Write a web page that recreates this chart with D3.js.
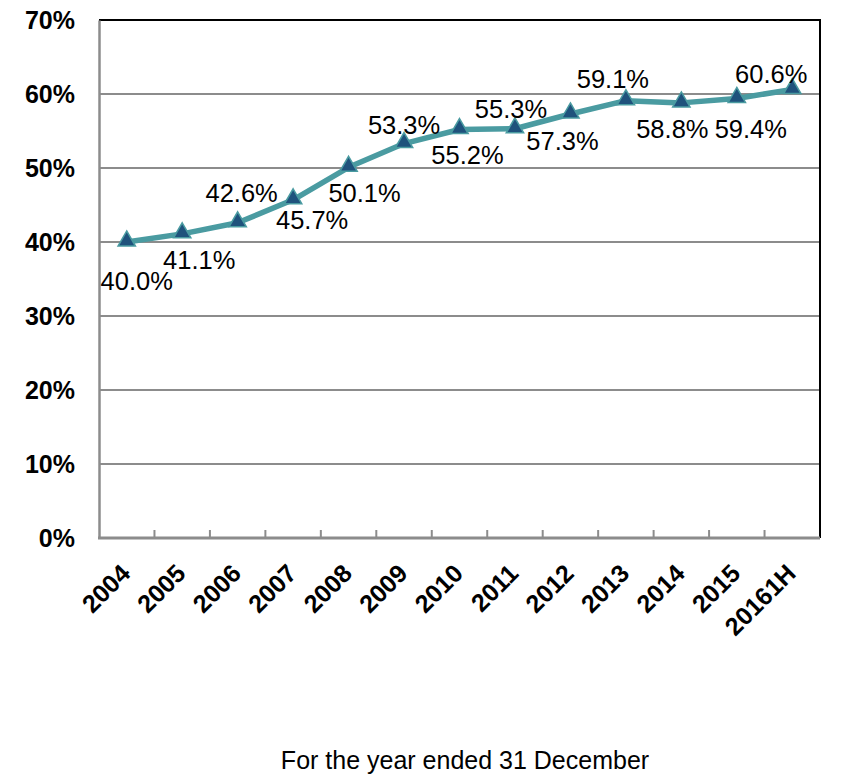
<!DOCTYPE html>
<html>
<head>
<meta charset="utf-8">
<script src="https://cdn.jsdelivr.net/npm/d3@7"></script>
<style>
  body { margin: 0; background: #fff; }
  svg { font-family: Arial, "Liberation Sans", sans-serif; }
</style>
</head>
<body>
<svg id="chart"></svg>
<script>
// data
const categories = ["2004", "2005", "2006", "2007", "2008", "2009", "2010", "2011", "2012", "2013", "2014", "2015", "20161H"];
const ratios = [40.0, 41.1, 42.6, 45.7, 50.1, 53.3, 55.2, 55.3, 57.3, 59.1, 58.8, 59.4, 60.6];
const yTicks = [0, 10, 20, 30, 40, 50, 60, 70];
const xTitle = "For the year ended 31 December";

const width = 848;
const height = 784;
const margin = {top: 20, right: 28, bottom: 246, left: 99};

const svg = d3.select("#chart")
    .attr("width", width)
    .attr("height", height);

const x = d3.scaleBand()
    .domain(categories)
    .range([margin.left, width - margin.right]);
const y = d3.scaleLinear()
    .domain([0, 70])
    .range([height - margin.bottom, margin.top]);

// grid lines
svg.append("g")
    .selectAll("line")
    .data(yTicks.slice(1, -1))
    .join("line")
        .attr("x1", margin.left)
        .attr("x2", width - margin.right)
        .attr("y1", d => y(d))
        .attr("y2", d => y(d))
        .attr("stroke", "#8c8c8c")
        .attr("stroke-width", 2);

// top + right border (black)
svg.append("path")
    .attr("d", `M${margin.left},${y(70)}H${width - margin.right}V${y(0)}`)
    .attr("fill", "none")
    .attr("stroke", "#000")
    .attr("stroke-width", 2);

// left axis
const yAxis = svg.append("g")
    .attr("transform", `translate(${margin.left},0)`)
    .call(d3.axisLeft(y).tickValues(yTicks).tickSize(0).tickPadding(24).tickFormat(d => d + "%"));
yAxis.select(".domain").attr("stroke", "#8c8c8c").attr("stroke-width", 2.5);
yAxis.selectAll("text")
    .attr("fill", "#000")
    .attr("font-size", 25)
    .attr("font-weight", "bold")
    .attr("font-family", "Arial, 'Liberation Sans', sans-serif");

// bottom axis, ticks between categories pointing up
const boundaries = categories.map(c => x(c)).slice(1);
const xAxisG = svg.append("g");
xAxisG.append("line")
    .attr("x1", margin.left - 1)
    .attr("x2", width - margin.right)
    .attr("y1", y(0))
    .attr("y2", y(0))
    .attr("stroke", "#8c8c8c")
    .attr("stroke-width", 3);
xAxisG.selectAll(".tk")
    .data(boundaries)
    .join("line")
        .attr("class", "tk")
        .attr("x1", d => d)
        .attr("x2", d => d)
        .attr("y1", y(0))
        .attr("y2", y(0) - 8)
        .attr("stroke", "#8c8c8c")
        .attr("stroke-width", 2);

xAxisG.selectAll(".lbl")
    .data(categories)
    .join("text")
        .attr("class", "lbl")
        .attr("transform", d => `translate(${x(d) + x.bandwidth() / 2 + 5},${y(0) + 37}) rotate(-45)`)
        .attr("text-anchor", "end")
        .attr("font-size", 25)
        .attr("font-weight", "bold")
        .text(d => d);

// line
const cx = (d, i) => x(categories[i]) + x.bandwidth() / 2;
const line = d3.line()
    .x(cx)
    .y(d => y(d));

svg.append("path")
    .datum(ratios)
    .attr("d", line)
    .attr("fill", "none")
    .attr("stroke", "#4a9ba1")
    .attr("stroke-width", 5.5)
    .attr("stroke-linejoin", "round");

// triangle markers
const tri = d3.symbol().type(d3.symbolTriangle).size(130);
svg.append("g")
    .selectAll("path")
    .data(ratios)
    .join("path")
        .attr("d", tri)
        .attr("transform", (d, i) => `translate(${cx(d, i)},${y(d) - 1})`)
        .attr("fill", "#1f527c")
        .attr("stroke", "#4a9ba1")
        .attr("stroke-width", 1.5);

// label placement (style only): offset from point to label centre
const labelOffsets = [
    [10, 39], [17, 26], [4, -30], [19, 20], [16, 26], [0, -19], [8, 26],
    [-4, -20], [-8, 27], [-13, -22], [-9, 26], [14, 31], [-21, -15]
];
svg.append("g")
    .selectAll("text")
    .data(ratios)
    .join("text")
        .attr("x", (d, i) => cx(d, i) + labelOffsets[i][0])
        .attr("y", (d, i) => y(d) + labelOffsets[i][1])
        .attr("dy", "0.35em")
        .attr("text-anchor", "middle")
        .attr("font-size", 25.5)
        .attr("fill", "#000")
        .text(d => d.toFixed(1) + "%");

// axis title
svg.append("text")
    .attr("x", 465)
    .attr("y", 769)
    .attr("text-anchor", "middle")
    .attr("font-size", 25)
    .attr("fill", "#000")
    .text(xTitle);
</script>
</body>
</html>
